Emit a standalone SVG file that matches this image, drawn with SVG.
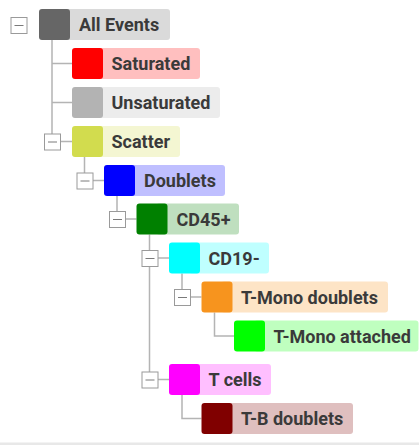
<svg xmlns="http://www.w3.org/2000/svg" width="419" height="445" viewBox="0 0 419 445">
  <style>
    .lbl { font-family: Roboto, "Liberation Sans", sans-serif; font-weight: 700; font-size: 18px; fill: #3a3a3a; }
    .wire { stroke: #b4b4b4; stroke-width: 1.5; fill: none; }
    .tog { fill: #ffffff; stroke: #9a9a9a; stroke-width: 1; }
    .tog-bar { stroke: #7a7a7a; stroke-width: 1; }
  </style>
  <defs>
    <!-- collapse toggle: 16x16 box with a minus bar, centred on origin -->
    <g id="toggle">
      <rect class="tog" x="-7.5" y="-7.5" width="16" height="16"/>
      <line class="tog-bar" x1="-4" y1="0.5" x2="5" y2="0.5"/>
    </g>
  </defs>
  <rect width="419" height="445" fill="#ffffff"/>

  <!-- tree connectors -->
  <g id="connectors">
    <path class="wire" d="M52 40 V134 M52 63.5 H72 M52 102.5 H72 M60 141.5 H72"/>
    <path class="wire" d="M84.5 157 V173 M92.5 180.5 H104"/>
    <path class="wire" d="M117 196 V211 M125 219 H136.5"/>
    <path class="wire" d="M149.5 234.5 V372 M157.5 258 H169 M157.5 379.5 H169"/>
    <path class="wire" d="M182 273.5 V289 M190 297 H201.5"/>
    <path class="wire" d="M214.5 312.5 V336 H234"/>
    <path class="wire" d="M182 395 V418.5 H201.5"/>
  </g>

  <!-- toggles -->
  <g id="toggles">
    <use href="#toggle" x="18.5" y="25"/>
    <use href="#toggle" x="52" y="141.5"/>
    <use href="#toggle" x="84.5" y="180.5"/>
    <use href="#toggle" x="117" y="219"/>
    <use href="#toggle" x="149.5" y="258"/>
    <use href="#toggle" x="182" y="297"/>
    <use href="#toggle" x="149.5" y="379.5"/>
  </g>

  <g id="all-events">
    <rect x="60" y="9" width="110" height="31" rx="3" fill="#dadada"/>
    <rect x="39" y="9" width="31" height="31" rx="3" fill="#666666"/>
    <text class="lbl" x="79" y="31">All Events</text>
  </g>
  <g id="saturated">
    <rect x="92" y="48" width="108" height="31" rx="3" fill="#ffbfbf"/>
    <rect x="72" y="48" width="31" height="31" rx="3" fill="#ff0000"/>
    <text class="lbl" x="111.5" y="70">Saturated</text>
  </g>
  <g id="unsaturated">
    <rect x="92" y="87" width="128" height="31" rx="3" fill="#ececec"/>
    <rect x="72" y="87" width="31" height="31" rx="3" fill="#b3b3b3"/>
    <text class="lbl" x="111.5" y="109">Unsaturated</text>
  </g>
  <g id="scatter">
    <rect x="92" y="126" width="88" height="31" rx="3" fill="#f4f6d2"/>
    <rect x="72" y="126" width="31" height="31" rx="3" fill="#d2dc4e"/>
    <text class="lbl" x="111.5" y="148">Scatter</text>
  </g>
  <g id="doublets">
    <rect x="124" y="165" width="101" height="31" rx="3" fill="#bfbfff"/>
    <rect x="104" y="165" width="31" height="31" rx="3" fill="#0000ff"/>
    <text class="lbl" x="144" y="187">Doublets</text>
  </g>
  <g id="cd45">
    <rect x="156" y="203.5" width="83" height="31" rx="3" fill="#bfdfbf"/>
    <rect x="136.5" y="203.5" width="31" height="31" rx="3" fill="#008000"/>
    <text class="lbl" x="176.5" y="225.5">CD45+</text>
  </g>
  <g id="cd19">
    <rect x="189" y="242.5" width="80" height="31" rx="3" fill="#bfffff"/>
    <rect x="169" y="242.5" width="31" height="31" rx="3" fill="#00ffff"/>
    <text class="lbl" x="208.5" y="264.5">CD19-</text>
  </g>
  <g id="t-mono-doublets">
    <rect x="221" y="281.5" width="167" height="31" rx="3" fill="#fde4c6"/>
    <rect x="201.5" y="281.5" width="31" height="31" rx="3" fill="#f7941e"/>
    <text class="lbl" x="241" y="303.5">T-Mono doublets</text>
  </g>
  <g id="t-mono-attached">
    <rect x="254" y="320.5" width="164.5" height="31" rx="3" fill="#bfffbf"/>
    <rect x="234" y="320.5" width="31" height="31" rx="3" fill="#00ff00"/>
    <text class="lbl" x="273.5" y="342.5">T-Mono attached</text>
  </g>
  <g id="t-cells">
    <rect x="189" y="364" width="82" height="31" rx="3" fill="#ffbfff"/>
    <rect x="169" y="364" width="31" height="31" rx="3" fill="#ff00ff"/>
    <text class="lbl" x="208.5" y="386">T cells</text>
  </g>
  <g id="t-b-doublets">
    <rect x="221" y="403" width="132" height="31" rx="3" fill="#dfbfbf"/>
    <rect x="201.5" y="403" width="31" height="31" rx="3" fill="#800000"/>
    <text class="lbl" x="241" y="425">T-B doublets</text>
  </g>

  <rect x="0" y="442.5" width="419" height="2.5" fill="#e8e8e8"/>
</svg>
